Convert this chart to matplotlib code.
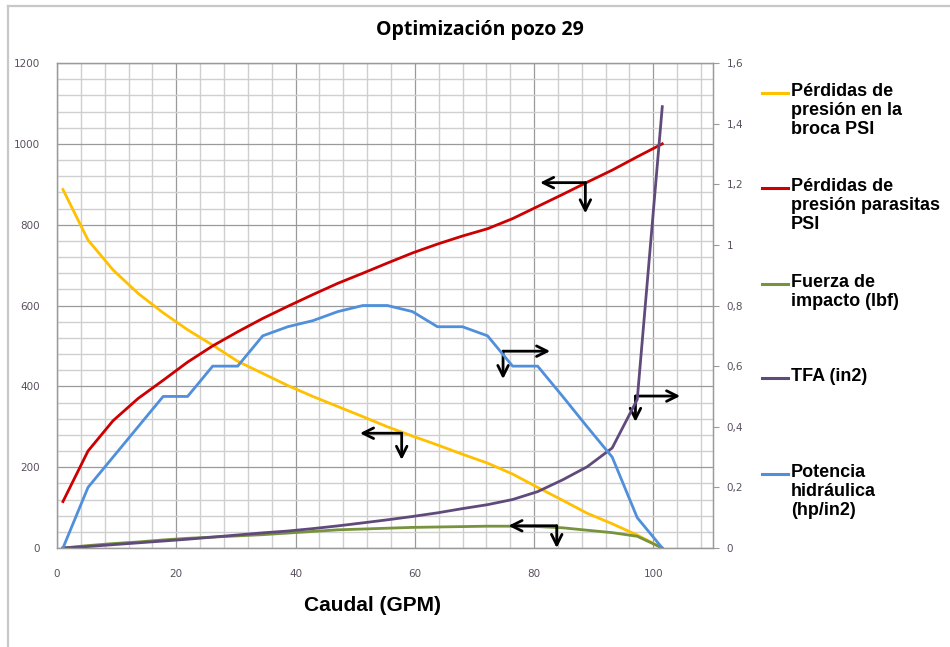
import numpy as np
import matplotlib
matplotlib.use("Agg")
import matplotlib.pyplot as plt
from matplotlib.lines import Line2D
from matplotlib.ticker import MultipleLocator, FuncFormatter

# caudal (GPM)
caudal = [1, 5.2, 9.4, 13.6, 17.8, 21.9, 26.1, 30.3, 34.5, 38.7, 42.9, 47.1, 51.3,
          55.4, 59.6, 63.8, 68.0, 72.2, 76.4, 80.6, 84.8, 88.9, 93.1, 97.3, 101.5]

# left axis (PSI / lbf)
perd_broca = [887, 762, 688, 630, 582, 540, 502, 462, 432, 402, 375, 350, 325,
              300, 277, 255, 232, 210, 183, 150, 118, 86, 60, 32, 0]
perd_parasitas = [115, 240, 315, 370, 415, 460, 500, 535, 568, 598, 627, 655, 680,
                  705, 730, 752, 772, 790, 815, 845, 875, 905, 935, 968, 1000]
fuerza_impacto = [0, 6, 11, 15, 20, 24, 27, 30, 33, 37, 41, 45, 47,
                  49, 51, 52, 53, 54, 54, 53, 50, 44, 38, 29, 0]

# right axis (in2 / hp/in2)
tfa = [0, 0.005, 0.011, 0.017, 0.023, 0.029, 0.036, 0.043, 0.050, 0.056, 0.064, 0.073, 0.083,
       0.093, 0.104, 0.116, 0.130, 0.143, 0.160, 0.186, 0.225, 0.268, 0.330, 0.49, 1.456]
potencia = [0, 0.2, 0.3, 0.4, 0.5, 0.5, 0.6, 0.6, 0.7, 0.73, 0.75, 0.78, 0.8,
            0.8, 0.78, 0.73, 0.73, 0.7, 0.6, 0.6, 0.5, 0.4, 0.3, 0.1, 0]

labels = ["Pérdidas de\npresión en la\nbroca PSI",
          "Pérdidas de\npresión parasitas\nPSI",
          "Fuerza de\nimpacto (lbf)",
          "TFA (in2)",
          "Potencia\nhidráulica\n(hp/in2)"]
colors = ["#FFC000", "#CC0000", "#77933C", "#604A7B", "#4F8FDC"]

# axis arrows: corner x, corner y (left-axis units), horizontal tip x, vertical tip y
arrows = [(88.6, 904, 81.0, 828),
          (57.8, 284, 50.8, 218),
          (74.8, 487, 82.7, 418),
          (97.0, 376, 104.5, 312),
          (83.8, 55, 75.7, 0)]

fig = plt.figure(figsize=(9.5, 6.47), dpi=100)
ax = fig.add_axes([0.06, 0.153, 0.6905, 0.7496])
ax2 = ax.twinx()

ax.set_xlim(0, 110)
ax.set_ylim(0, 1200)
ax2.set_ylim(0, 1.6)

ax.xaxis.set_major_locator(MultipleLocator(20))
ax.xaxis.set_minor_locator(MultipleLocator(4))
ax.yaxis.set_major_locator(MultipleLocator(200))
ax.yaxis.set_minor_locator(MultipleLocator(40))
ax2.yaxis.set_major_locator(MultipleLocator(0.2))
ax.set_xticks([0, 20, 40, 60, 80, 100])

ax.grid(which="major", color="#9a9a9a", lw=0.9)
ax.grid(which="minor", color="#cfcfcf", lw=1.0)
ax.set_axisbelow(True)

ax2.yaxis.set_major_formatter(FuncFormatter(lambda v, p: ("%g" % round(v, 1)).replace(".", ",")))

for a in (ax, ax2):
    for s in a.spines.values():
        s.set_color("#9a9a9a")
        s.set_linewidth(0.9)
ax.tick_params(which="both", length=0, labelsize=7.5, labelcolor="#5a5060")
ax.tick_params(axis="y", pad=12)
ax.tick_params(axis="x", pad=15)
ax2.tick_params(axis="y", length=4, color="#9a9a9a", labelsize=7.5, labelcolor="#5a5060", pad=6)

lw = 2.0
ax.plot(caudal, perd_broca, color=colors[0], lw=lw)
ax.plot(caudal, perd_parasitas, color=colors[1], lw=lw)
ax.plot(caudal, fuerza_impacto, color=colors[2], lw=lw)
ax2.plot(caudal, tfa, color=colors[3], lw=lw)
ax2.plot(caudal, potencia, color=colors[4], lw=lw)

for cx, cy, hx, vy in arrows:
    ap = dict(arrowstyle="->", lw=2.0, color="black", mutation_scale=19, shrinkA=0, shrinkB=0)
    ax.annotate("", xy=(hx, cy), xytext=(cx, cy), arrowprops=ap, annotation_clip=False)
    ax.annotate("", xy=(cx, vy), xytext=(cx, cy), arrowprops=ap, annotation_clip=False)

fig.text(0.505, 0.953, "Optimización pozo 29", ha="center", va="center",
         fontsize=14, fontweight="bold", family="Open Sans")
fig.text(0.392, 0.064, "Caudal (GPM)", ha="center", va="center",
         fontsize=15, fontweight="bold", family="Liberation Sans")

# legend built by hand on the right
leg_y = [93, 188, 284, 378, 474]
for lab, col, py in zip(labels, colors, leg_y):
    yf = 1 - py / 647
    fig.add_artist(Line2D([762 / 950, 788 / 950], [yf, yf], color=col, lw=2.2))
    fig.text(791 / 950, yf + 10 / 647, lab, ha="left", va="top", fontsize=13,
             fontweight="bold", family="Liberation Sans", linespacing=1.15)

# outer frame of the chart area
fig.add_artist(Line2D([8 / 950, 8 / 950], [0, 1 - 6 / 647], color="#c8c8c8", lw=1.6))
fig.add_artist(Line2D([8 / 950, 1], [1 - 6 / 647, 1 - 6 / 647], color="#c8c8c8", lw=1.6))

fig.savefig("out.png", dpi=100)
